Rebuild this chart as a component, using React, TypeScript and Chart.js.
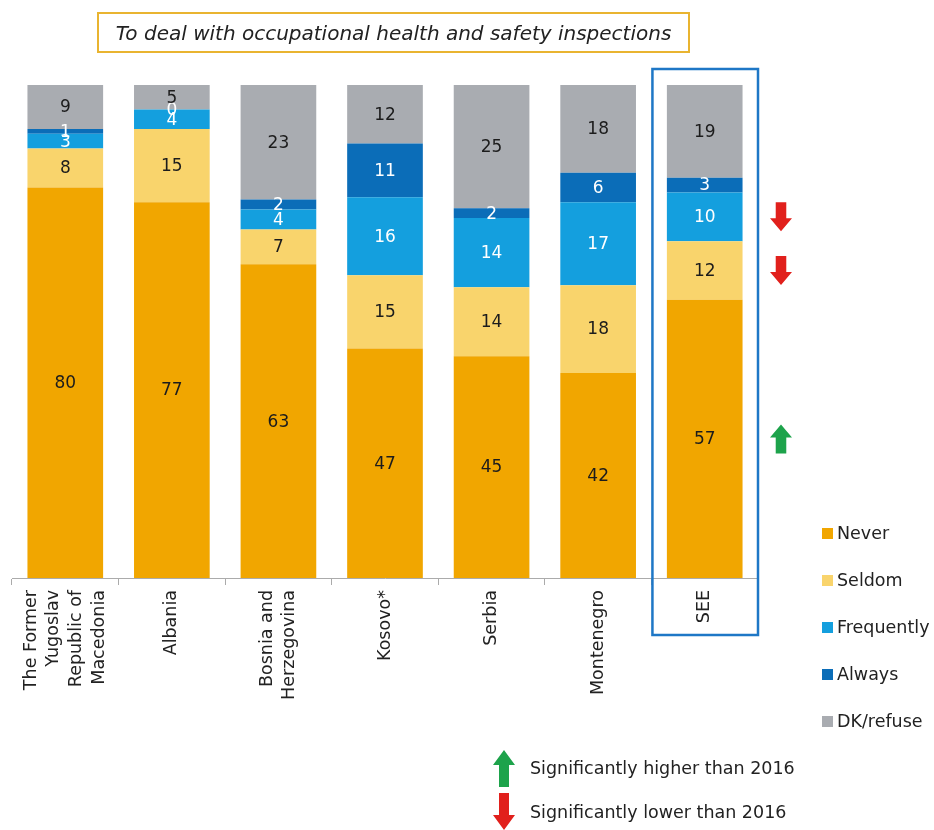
import React, { useEffect, useRef } from "react";
import { Chart, registerables } from "chart.js";

Chart.register(...registerables);

const categories: (string | string[])[] = [
  ["The Former", "Yugoslav", "Republic of", "Macedonia"],
  "Albania",
  ["Bosnia and", "Herzegovina"],
  "Kosovo*",
  "Serbia",
  "Montenegro",
  "SEE",
];
const seriesNames = ["Never", "Seldom", "Frequently", "Always", "DK/refuse"];
const never = [80, 77, 63, 47, 45, 42, 57];
const seldom = [8, 15, 7, 15, 14, 18, 12];
const frequently = [3, 4, 4, 16, 14, 17, 10];
const always = [1, 0, 2, 11, 2, 6, 3];
const dkRefuse = [9, 5, 23, 12, 25, 18, 19];
const seriesColors = ["#F1A600", "#F9D46C", "#149FDE", "#0B6DB8", "#A9ACB1"];
const labelColors = ["#1c1c1c", "#1c1c1c", "#ffffff", "#ffffff", "#1c1c1c"];
const titleText = "To deal with occupational health and safety inspections";
const highlightIndex = 6; // SEE
const higherThan2016 = ["Never"];
const lowerThan2016 = ["Seldom", "Frequently"];
const noteHigher = "Significantly higher than 2016";
const noteLower = "Significantly lower than 2016";

const series = [never, seldom, frequently, always, dkRefuse];
const totals = categories.map((_, j) => series.reduce((s, arr) => s + arr[j], 0));

const FONT = "'DejaVu Sans', Verdana, sans-serif";
const GREEN = "#1DA34B";
const RED = "#E1201C";

function drawArrow(ctx: CanvasRenderingContext2D, cx: number, cy: number, w: number, h: number, up: boolean, color: string) {
  const hh = h * 0.45;
  const sw = w * 0.48;
  const top = cy - h / 2;
  const bot = cy + h / 2;
  ctx.save();
  ctx.fillStyle = color;
  ctx.beginPath();
  if (up) {
    ctx.moveTo(cx, top);
    ctx.lineTo(cx + w / 2, top + hh);
    ctx.lineTo(cx + sw / 2, top + hh);
    ctx.lineTo(cx + sw / 2, bot);
    ctx.lineTo(cx - sw / 2, bot);
    ctx.lineTo(cx - sw / 2, top + hh);
    ctx.lineTo(cx - w / 2, top + hh);
  } else {
    ctx.moveTo(cx, bot);
    ctx.lineTo(cx + w / 2, bot - hh);
    ctx.lineTo(cx + sw / 2, bot - hh);
    ctx.lineTo(cx + sw / 2, top);
    ctx.lineTo(cx - sw / 2, top);
    ctx.lineTo(cx - sw / 2, bot - hh);
    ctx.lineTo(cx - w / 2, bot - hh);
  }
  ctx.closePath();
  ctx.fill();
  ctx.restore();
}

const overlayPlugin = {
  id: "overlay",
  afterDatasetsDraw(chart: any) {
    const ctx: CanvasRenderingContext2D = chart.ctx;
    const xScale = chart.scales.x;
    const area = chart.chartArea;
    // value labels
    ctx.save();
    ctx.font = `17px ${FONT}`;
    ctx.textAlign = "center";
    ctx.textBaseline = "middle";
    series.forEach((arr, i) => {
      const meta = chart.getDatasetMeta(i);
      meta.data.forEach((el: any, j: number) => {
        ctx.fillStyle = labelColors[i];
        const y = (el.y + el.base) / 2;
        ctx.fillText(String(arr[j]), el.x, y + 1);
      });
    });
    ctx.restore();

    // category labels, rotated, lines centred on the tick
    ctx.save();
    ctx.font = `17.5px ${FONT}`;
    ctx.fillStyle = "#222";
    ctx.textAlign = "right";
    ctx.textBaseline = "middle";
    const lh = 22.7;
    categories.forEach((c, j) => {
      const lines = Array.isArray(c) ? c : [c];
      const px = xScale.getPixelForValue(j);
      lines.forEach((line, k) => {
        const lx = px + (k - (lines.length - 1) / 2) * lh;
        ctx.save();
        ctx.translate(lx, area.bottom + 12);
        ctx.rotate(-Math.PI / 2);
        ctx.fillText(line, 0, 0);
        ctx.restore();
      });
    });
    ctx.restore();

    // highlight box around SEE
    const cx = xScale.getPixelForValue(highlightIndex);
    const half = (xScale.getPixelForValue(1) - xScale.getPixelForValue(0)) / 2;
    const left = cx - half + 1;
    const right = cx + half;
    ctx.save();
    ctx.strokeStyle = "#1E77C6";
    ctx.lineWidth = 2.5;
    ctx.strokeRect(left, area.top - 16, right - left, area.bottom + 57 - (area.top - 16));
    ctx.restore();

    // significance arrows
    const ax = right + 23;
    series.forEach((_, i) => {
      const name = seriesNames[i];
      const el: any = chart.getDatasetMeta(i).data[highlightIndex];
      const y = (el.y + el.base) / 2;
      if (higherThan2016.includes(name)) drawArrow(ctx, ax, y, 22, 29, true, GREEN);
      if (lowerThan2016.includes(name)) drawArrow(ctx, ax, y, 22, 29, false, RED);
    });
  },
};

function ArrowSvg({ up, color }: { up: boolean; color: string }) {
  const w = 22, h = 37, hh = 15, sw = 10;
  const pts = up
    ? `${w / 2},0 ${w},${hh} ${(w + sw) / 2},${hh} ${(w + sw) / 2},${h} ${(w - sw) / 2},${h} ${(w - sw) / 2},${hh} 0,${hh}`
    : `${w / 2},${h} ${w},${h - hh} ${(w + sw) / 2},${h - hh} ${(w + sw) / 2},0 ${(w - sw) / 2},0 ${(w - sw) / 2},${h - hh} 0,${h - hh}`;
  return (
    <svg width={w} height={h} style={{ display: "block" }}>
      <polygon points={pts} fill={color} />
    </svg>
  );
}

export default function App() {
  const ref = useRef<HTMLCanvasElement | null>(null);
  useEffect(() => {
    if (!ref.current) return;
    const chart = new Chart(ref.current, {
      type: "bar",
      data: {
        labels: categories as any,
        datasets: series.map((arr, i) => ({
          label: seriesNames[i],
          data: arr.map((v, j) => (v / totals[j]) * 100),
          backgroundColor: seriesColors[i],
          borderWidth: 0,
          categoryPercentage: 1,
          barPercentage: 0.71,
        })),
      },
      options: {
        responsive: false,
        animation: false,
        devicePixelRatio: 1,
        layout: { padding: { left: 12, right: 176, top: 85, bottom: 0 } },
        plugins: { legend: { display: false }, tooltip: { enabled: false }, title: { display: false } },
        scales: {
          x: {
            stacked: true,
            afterFit: (scale: any) => {
              scale.height = 252;
            },
            grid: { display: true, drawOnChartArea: false, drawTicks: true, tickLength: 7, color: "#ababab", offset: true },
            border: { display: true, color: "#ababab", width: 1 },
            ticks: { display: false, autoSkip: false },
          },
          y: { stacked: true, display: false, min: 0, max: 100 },
        },
      },
      plugins: [overlayPlugin],
    } as any);
    return () => chart.destroy();
  }, []);

  const legendTops = [533, 580, 627, 674, 721];
  return (
    <div style={{ position: "absolute", left: 0, top: 0, width: 934, height: 830, background: "#fff", fontFamily: FONT, color: "#222" }}>
      <canvas ref={ref} width={934} height={830} style={{ position: "absolute", left: 0, top: 0, width: 934, height: 830 }} />
      <div
        style={{
          position: "absolute",
          left: 97,
          top: 12,
          width: 593,
          height: 41,
          boxSizing: "border-box",
          border: "2px solid #E9B430",
          display: "flex",
          alignItems: "center",
          justifyContent: "center",
          fontStyle: "italic",
          fontSize: 20,
          whiteSpace: "nowrap",
        }}
      >
        {titleText}
      </div>
      {seriesNames.map((name, i) => (
        <div
          key={name}
          style={{ position: "absolute", left: 822, top: legendTops[i] - 12, height: 24, display: "flex", alignItems: "center", whiteSpace: "nowrap" }}
        >
          <span style={{ width: 11, height: 11, background: seriesColors[i], display: "inline-block", marginRight: 4 }} />
          <span style={{ fontSize: 17.5 }}>{name}</span>
        </div>
      ))}
      <div style={{ position: "absolute", left: 493, top: 750 }}>
        <ArrowSvg up={true} color={GREEN} />
      </div>
      <div style={{ position: "absolute", left: 530, top: 756, fontSize: 17.5, whiteSpace: "nowrap", lineHeight: "24px" }}>{noteHigher}</div>
      <div style={{ position: "absolute", left: 493, top: 793 }}>
        <ArrowSvg up={false} color={RED} />
      </div>
      <div style={{ position: "absolute", left: 530, top: 800, fontSize: 17.5, whiteSpace: "nowrap", lineHeight: "24px" }}>{noteLower}</div>
    </div>
  );
}
